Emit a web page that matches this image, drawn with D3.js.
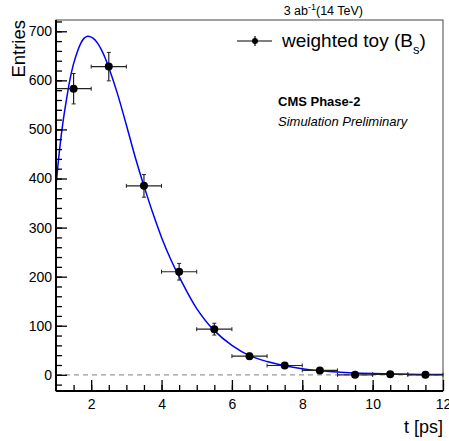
<!DOCTYPE html>
<html>
<head>
<meta charset="utf-8">
<script src="https://cdn.jsdelivr.net/npm/d3@7"></script>
<style>
  body { margin: 0; background: #fff; }
  text { font-family: "Liberation Sans", Arial, Helvetica, sans-serif; }
</style>
</head>
<body>
<div id="chart"></div>
<script>
// histogram bins (t in ps)
var binCenters = [1.5, 2.5, 3.5, 4.5, 5.5, 6.5, 7.5, 8.5, 9.5, 10.5, 11.5];
var binHalfWidth = 0.5;
var entries = [583, 628, 385, 210, 93, 38, 19, 9, 0, 1, 0];
var errors = [31, 29, 23, 17, 12, 6, 4, 3, 1, 1, 1];

// fitted curve
var fitT = [1.0, 1.1, 1.2, 1.3, 1.4, 1.5, 1.6, 1.7, 1.8, 1.9, 2.0, 2.1, 2.2, 2.3, 2.4, 2.5,
            2.75, 3.0, 3.25, 3.5, 3.75, 4.0, 4.25, 4.5, 5.0, 5.5, 6.0, 6.5, 7.0, 7.5, 8.0,
            8.5, 9.0, 9.5, 10.0, 11.0, 12.0];
var fitY = [385, 458, 516, 562, 603, 634, 657, 675, 686, 690, 688, 683, 674, 661, 645, 626,
            572, 509, 444, 385, 330, 280, 237, 200, 135, 90, 60, 39, 27, 18.5, 12.5,
            8.5, 5.5, 3.7, 2.5, 1.1, 0.5];

var xTicks = [2, 4, 6, 8, 10, 12];
var yTicks = [0, 100, 200, 300, 400, 500, 600, 700];

var W = 449, H = 441;
var frameL = 56, frameR = 443, frameT = 20, frameB = 391;

var svg = d3.select("#chart").append("svg")
    .attr("width", W)
    .attr("height", H);

var x = d3.scaleLinear().domain([1, 12]).range([frameL, frameR]);
var y = d3.scaleLinear().domain([-33, 723]).range([frameB, frameT]);

// frame (top/right)
svg.append("rect")
    .attr("x", frameL).attr("y", frameT)
    .attr("width", frameR - frameL).attr("height", frameB - frameT)
    .attr("fill", "none").attr("stroke", "#444").attr("stroke-width", 1);

// zero line
svg.append("line")
    .attr("x1", frameL).attr("x2", frameR)
    .attr("y1", y(0)).attr("y2", y(0))
    .attr("stroke", "#999").attr("stroke-width", 1.2)
    .attr("stroke-dasharray", "5,4");

// fit curve
var line = d3.line()
    .x(function(d, i) { return x(fitT[i]); })
    .y(function(d) { return y(d); })
    .curve(d3.curveCatmullRom.alpha(0.5));

svg.append("path")
    .datum(fitY)
    .attr("d", line)
    .attr("fill", "none")
    .attr("stroke", "#0000ff")
    .attr("stroke-width", 1.5);

// data points with error bars
var pts = svg.append("g").selectAll("g")
    .data(binCenters)
    .join("g");

pts.append("line")
    .attr("x1", function(d) { return x(d - binHalfWidth); })
    .attr("x2", function(d) { return x(d + binHalfWidth); })
    .attr("y1", function(d, i) { return y(entries[i]); })
    .attr("y2", function(d, i) { return y(entries[i]); })
    .attr("stroke", "#222").attr("stroke-width", 1.2);

pts.append("line")
    .attr("x1", function(d) { return x(d); })
    .attr("x2", function(d) { return x(d); })
    .attr("y1", function(d, i) { return y(entries[i] - errors[i]); })
    .attr("y2", function(d, i) { return y(entries[i] + errors[i]); })
    .attr("stroke", "#222").attr("stroke-width", 1.2);

// end caps
[-1, 1].forEach(function(s) {
  pts.append("line")
      .attr("x1", function(d) { return x(d + s * binHalfWidth); })
      .attr("x2", function(d) { return x(d + s * binHalfWidth); })
      .attr("y1", function(d, i) { return y(entries[i]) - 2; })
      .attr("y2", function(d, i) { return y(entries[i]) + 2; })
      .attr("stroke", "#222").attr("stroke-width", 1);
  pts.append("line")
      .attr("x1", function(d) { return x(d) - 2; })
      .attr("x2", function(d) { return x(d) + 2; })
      .attr("y1", function(d, i) { return y(entries[i] + s * errors[i]); })
      .attr("y2", function(d, i) { return y(entries[i] + s * errors[i]); })
      .attr("stroke", "#222").attr("stroke-width", 1)
      .attr("display", function(d, i) { return errors[i] > 3 ? null : "none"; });
});

pts.append("circle")
    .attr("cx", function(d) { return x(d); })
    .attr("cy", function(d, i) { return y(entries[i]); })
    .attr("r", 4)
    .attr("fill", "#000");

// axes
var xMinor = svg.append("g")
    .attr("transform", "translate(0," + frameB + ")")
    .call(d3.axisBottom(x).tickValues(d3.range(1.5, 12, 0.5)).tickSizeInner(-6).tickSizeOuter(0).tickFormat(""));
var xMajor = svg.append("g")
    .attr("transform", "translate(0," + frameB + ")")
    .call(d3.axisBottom(x).tickValues(xTicks).tickSizeInner(-11).tickSizeOuter(0).tickPadding(8).tickFormat(d3.format("d")));

var yMinor = svg.append("g")
    .attr("transform", "translate(" + frameL + ",0)")
    .call(d3.axisLeft(y).tickValues(d3.range(-20, 721, 20)).tickSizeInner(-6).tickSizeOuter(0).tickFormat(""));
var yMajor = svg.append("g")
    .attr("transform", "translate(" + frameL + ",0)")
    .call(d3.axisLeft(y).tickValues(yTicks).tickSizeInner(-11).tickSizeOuter(0).tickPadding(4).tickFormat(d3.format("d")));

[xMinor, xMajor, yMinor, yMajor].forEach(function(g) {
  g.select(".domain").remove();
  g.selectAll(".tick line").attr("stroke", "#000").attr("stroke-width", 1.3);
  g.selectAll("text").attr("fill", "#000").style("font-size", "14px");
});

// axis lines
svg.append("line")
    .attr("x1", frameL).attr("x2", frameL).attr("y1", frameT).attr("y2", frameB)
    .attr("stroke", "#000").attr("stroke-width", 2);
svg.append("line")
    .attr("x1", frameL).attr("x2", frameR).attr("y1", frameB).attr("y2", frameB)
    .attr("stroke", "#000").attr("stroke-width", 2);

// axis titles
svg.append("text")
    .attr("transform", "translate(25," + frameT + ") rotate(-90)")
    .attr("text-anchor", "end")
    .style("font-size", "18.5px")
    .text("Entries");

svg.append("text")
    .attr("x", frameR).attr("y", 433)
    .attr("text-anchor", "end")
    .style("font-size", "18px")
    .text("t [ps]");

// lumi label
var lumi = svg.append("text")
    .attr("x", 363).attr("y", 15)
    .attr("text-anchor", "end")
    .style("font-size", "12.5px");
lumi.append("tspan").text("3 ab");
lumi.append("tspan").attr("dy", -5).style("font-size", "9px").text("-1");
lumi.append("tspan").attr("dy", 5).text("(14 TeV)");

// legend
svg.append("line")
    .attr("x1", 237).attr("x2", 272).attr("y1", 41).attr("y2", 41)
    .attr("stroke", "#000").attr("stroke-width", 1.2);
svg.append("line")
    .attr("x1", 255).attr("x2", 255).attr("y1", 36).attr("y2", 46)
    .attr("stroke", "#000").attr("stroke-width", 1.2);
svg.append("circle")
    .attr("cx", 255).attr("cy", 41).attr("r", 3)
    .attr("fill", "#000");

var leg = svg.append("text")
    .attr("x", 282).attr("y", 47)
    .style("font-size", "19px");
leg.append("tspan").text("weighted toy (B");
leg.append("tspan").attr("dy", 7).style("font-size", "13px").text("s");
leg.append("tspan").attr("dy", -7).text(")");

svg.append("text")
    .attr("x", 278).attr("y", 106)
    .style("font-size", "13px")
    .style("font-weight", "bold")
    .text("CMS Phase-2");

svg.append("text")
    .attr("x", 278).attr("y", 126)
    .style("font-size", "13px")
    .style("font-style", "italic")
    .text("Simulation Preliminary");
</script>
</body>
</html>
